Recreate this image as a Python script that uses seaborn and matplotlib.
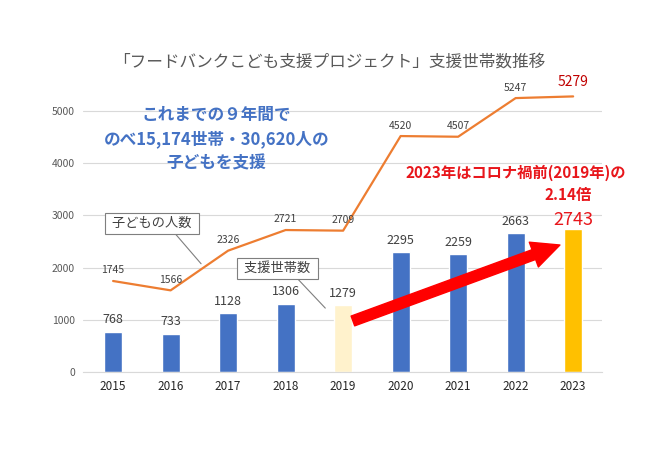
import numpy as np
import pandas as pd
import seaborn as sns
import matplotlib.pyplot as plt

years = ['2015', '2016', '2017', '2018', '2019', '2020', '2021', '2022', '2023']
households = [768, 733, 1128, 1306, 1279, 2295, 2259, 2663, 2743]
children = [1745, 1566, 2326, 2721, 2709, 4520, 4507, 5247, 5279]
bar_colors = ['#4472C4'] * 4 + ['#FFF2CC'] + ['#4472C4'] * 3 + ['#FFC000']

sns.set_style('white')
plt.rcParams['font.family'] = ['Noto Sans CJK JP', 'DejaVu Sans']

df = pd.DataFrame({'year': years, 'households': households, 'children': children})

fig = plt.figure(figsize=(6.5, 4.5), dpi=100)
ax = fig.add_axes([0.128, 0.173, 0.798, 0.65])

sns.barplot(data=df, x='year', y='households', hue='year', palette=bar_colors,
            legend=False, width=0.31, saturation=1, ax=ax)
pos = np.arange(len(years))
sns.lineplot(x=pos, y=df['children'], color='#ED7D31', linewidth=1.6, ax=ax)

ax.set_xlim(-0.52, 8.5)
ax.set_ylim(0, 5600)
ax.set_yticks([0, 1000, 2000, 3000, 4000, 5000])
ax.grid(axis='y', color='#D9D9D9', linewidth=0.8)
ax.set_axisbelow(True)
for s in ['top', 'right', 'left']:
    ax.spines[s].set_visible(False)
ax.spines['bottom'].set_color('#D9D9D9')
ax.tick_params(axis='y', length=0, pad=6, labelsize=7.5, labelcolor='#595959')
ax.tick_params(axis='x', length=0, pad=6, labelsize=8.5, labelcolor='#262626')
ax.set_xlabel('')
ax.set_ylabel('')

# bar value labels
for i, v in enumerate(households):
    if years[i] == '2023':
        ax.annotate(str(v), (i, v), xytext=(0, 0), textcoords='offset points',
                    ha='center', va='bottom', fontsize=13, color='#E8161B')
    else:
        ax.annotate(str(v), (i, v), xytext=(0, 4), textcoords='offset points',
                    ha='center', va='bottom', fontsize=9, color='#404040')

# line value labels
for i, v in enumerate(children):
    if years[i] == '2023':
        ax.annotate(str(v), (i, v), xytext=(0, 5), textcoords='offset points',
                    ha='center', va='bottom', fontsize=10, color='#C00000')
    else:
        ax.annotate(str(v), (i, v), xytext=(0, 4), textcoords='offset points',
                    ha='center', va='bottom', fontsize=7.5, color='#404040')

# callouts
ax.annotate(' 子どもの人数 ', xy=(1.53, 2075), xytext=(0.68, 2849),
            ha='center', va='center', fontsize=9.5, color='#404040',
            bbox=dict(boxstyle='square,pad=0.3', fc='white', ec='#7F7F7F', lw=0.8),
            arrowprops=dict(arrowstyle='-', color='#7F7F7F', lw=0.8,
                            relpos=(0.73, 0), shrinkA=0, shrinkB=0))
ax.annotate(' 支援世帯数 ', xy=(3.69, 1226), xytext=(2.86, 1981),
            ha='center', va='center', fontsize=9.5, color='#404040',
            bbox=dict(boxstyle='square,pad=0.3', fc='white', ec='#7F7F7F', lw=0.8),
            arrowprops=dict(arrowstyle='-', color='#7F7F7F', lw=0.8,
                            relpos=(0.73, 0), shrinkA=0, shrinkB=0))

# red arrow
ax.annotate('', xy=(7.77, 2434), xytext=(4.17, 980),
            arrowprops=dict(arrowstyle='simple,tail_width=0.75,head_width=1.9,head_length=2.0',
                            color='#FF0000', mutation_scale=10, shrinkA=0, shrinkB=0))

ax.text(1.8, 4453, 'これまでの９年間で\nのべ15,174世帯・30,620人の\n子どもを支援',
        ha='center', va='center', ma='center', fontsize=12, fontweight='bold',
        color='#4472C4', linespacing=1.45)
ax.text(7.01, 3811, '2023年はコロナ禍前(2019年)の', ha='center', va='center',
        fontsize=11, fontweight='bold', color='#E8161B')
ax.text(7.91, 3396, '2.14倍', ha='center', va='center',
        fontsize=11, fontweight='bold', color='#E8161B')

fig.text(0.506, 0.862, '「フードバンクこども支援プロジェクト」支援世帯数推移',
         ha='center', va='center', fontsize=12, color='#595959')

fig.savefig('out.png', dpi=100, facecolor='white')
